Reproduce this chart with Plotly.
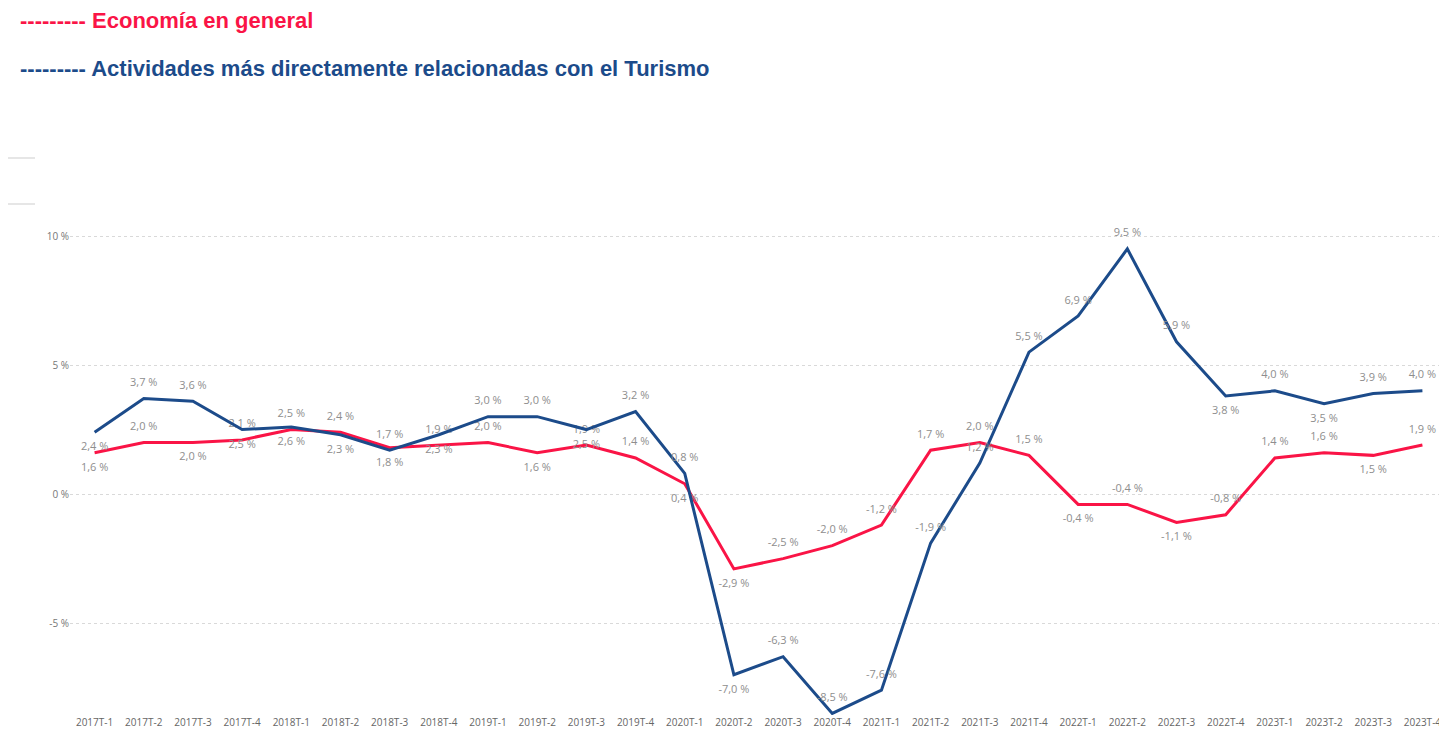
import plotly.graph_objects as go

periods = ["2017T-1", "2017T-2", "2017T-3", "2017T-4",
           "2018T-1", "2018T-2", "2018T-3", "2018T-4",
           "2019T-1", "2019T-2", "2019T-3", "2019T-4",
           "2020T-1", "2020T-2", "2020T-3", "2020T-4",
           "2021T-1", "2021T-2", "2021T-3", "2021T-4",
           "2022T-1", "2022T-2", "2022T-3", "2022T-4",
           "2023T-1", "2023T-2", "2023T-3", "2023T-4"]

economia = [1.6, 2.0, 2.0, 2.1, 2.5, 2.4, 1.8, 1.9,
            2.0, 1.6, 1.9, 1.4, 0.4, -2.9, -2.5, -2.0,
            -1.2, 1.7, 2.0, 1.5, -0.4, -0.4, -1.1, -0.8,
            1.4, 1.6, 1.5, 1.9]

turismo = [2.4, 3.7, 3.6, 2.5, 2.6, 2.3, 1.7, 2.3,
           3.0, 3.0, 2.5, 3.2, 0.8, -7.0, -6.3, -8.5,
           -7.6, -1.9, 1.2, 5.5, 6.9, 9.5, 5.9, 3.8,
           4.0, 3.5, 3.9, 4.0]

pos_economia = ["b", "t", "b", "t", "t", "t", "b", "t",
                "t", "b", "t", "t", "b", "b", "t", "t",
                "t", "t", "t", "t", "b", "t", "b", "t",
                "t", "t", "b", "t"]
pos_turismo = ["b", "t", "t", "b", "b", "b", "t", "b",
               "t", "t", "b", "t", "t", "b", "t", "t",
               "t", "t", "t", "t", "t", "t", "t", "b",
               "t", "b", "t", "t"]

y_ticks = [-5, 0, 5, 10]

RED = "#FA1446"
BLUE = "#1C4B8A"
LABEL = "#8E8E8E"


def fmt(v):
    return f"{v:.1f}".replace(".", ",") + " %"


def tpos(p):
    return "top center" if p == "t" else "bottom center"


fig = go.Figure()
for vals, pos, col in ((economia, pos_economia, RED), (turismo, pos_turismo, BLUE)):
    fig.add_trace(go.Scatter(
        x=periods, y=vals, mode="lines+markers+text",
        line=dict(color=col, width=3),
        marker=dict(size=14, color="rgba(0,0,0,0)"),
        text=[fmt(v) for v in vals],
        textposition=[tpos(p) for p in pos],
        textfont=dict(family="Open Sans, sans-serif", size=11, color=LABEL),
        cliponaxis=False, showlegend=False, hoverinfo="skip",
    ))

# page has an 8px body margin; work in figure coordinates
OFF = 8
W, H = 1447 - OFF, 729 - OFF
top_px, bot_px = 220 - OFF, 715 - OFF
L, R = 62, 0
T, B = top_px, H - bot_px
pw, ph = W - L - R, H - T - B

fig.update_layout(
    width=W, height=H,
    margin=dict(l=L, r=R, t=T, b=B, autoexpand=False),
    paper_bgcolor="white", plot_bgcolor="white",
    font=dict(family="Open Sans, sans-serif"),
    xaxis=dict(
        type="category", range=[-0.5, 27.5],
        showgrid=False, zeroline=False, showline=False,
        ticks="", tickfont=dict(size=10, color="#666666"),
        automargin=False, fixedrange=True,
    ),
    yaxis=dict(
        range=[-8.56, 10.62],
        tickvals=y_ticks, ticktext=[f"{v} %" for v in y_ticks],
        showgrid=True, gridcolor="#D9D9D9", griddash="dot", gridwidth=1,
        zeroline=False, showline=False, ticks="",
        tickfont=dict(size=10, color="#777777"),
        automargin=False, fixedrange=True,
    ),
)

# legend-like header text
fig.add_annotation(
    xref="paper", yref="paper",
    x=(18 - OFF - L) / pw, y=(H - B - (20 - OFF)) / ph,
    xanchor="left", yanchor="middle", showarrow=False,
    text="<b>--------- Economía en general</b>",
    font=dict(family="Liberation Sans, Arial, sans-serif", size=22, color=RED),
)
fig.add_annotation(
    xref="paper", yref="paper",
    x=(18 - OFF - L) / pw, y=(H - B - (68 - OFF)) / ph,
    xanchor="left", yanchor="middle", showarrow=False,
    text="<b>--------- Actividades más directamente relacionadas con el Turismo</b>",
    font=dict(family="Liberation Sans, Arial, sans-serif", size=22, color=BLUE),
)

# small decorative grey strokes at left
for py in (158, 204):
    yy = (H - B - (py - OFF)) / ph
    fig.add_shape(
        type="line", xref="paper", yref="paper",
        x0=(6 - OFF - L) / pw, x1=(35 - OFF - L) / pw,
        y0=yy, y1=yy,
        line=dict(color="#E6E6E6", width=2),
    )

fig.write_html("out.html")
